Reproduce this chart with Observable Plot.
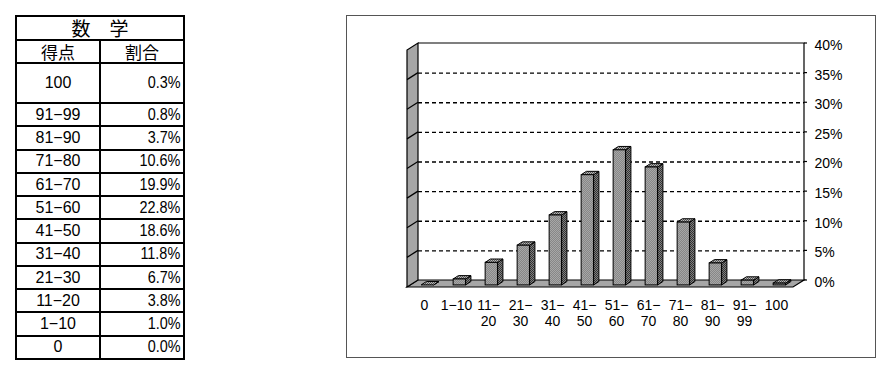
<!DOCTYPE html>
<html><head><meta charset="utf-8">
<script src="https://cdn.jsdelivr.net/npm/d3@7"></script>
<script src="https://cdn.jsdelivr.net/npm/@observablehq/plot@0.6"></script>
<style>
html,body{margin:0;padding:0;background:#fff;}
#wrap{position:relative;width:896px;height:374px;overflow:hidden;background:#fff;}
#chart{position:absolute;left:0;top:0;}
#frame{position:absolute;left:346px;top:15px;width:528px;height:341px;border:1.5px solid #555;pointer-events:none;}
#tbl{position:absolute;left:15px;top:15px;border-collapse:collapse;table-layout:fixed;width:168px;}
#tbl td{border:2px solid #000;padding:0;font-family:"Liberation Sans",Arial,sans-serif;font-size:16px;line-height:1.1;color:#000;white-space:nowrap;}
#tbl td.c1{text-align:center;}
#tbl td.c2{text-align:right;padding-right:3px;}
#tbl td.c2 span{display:inline-block;transform:scaleX(0.9);transform-origin:100% 50%;}
#tbl td.ttl{text-align:center;font-family:"Noto Sans CJK JP",sans-serif;font-size:19px;line-height:1;}
#tbl td.hd{text-align:center;font-family:"Noto Sans CJK JP",sans-serif;font-size:17px;line-height:1;}
</style>
</head><body>
<div id="wrap">
  <table id="tbl"></table>
  <div id="chart"></div>
  <div id="frame"></div>
</div>
<script>
// ---- data ----
const subjectTitle = "数　学";
const headerLabels = ["得点", "割合"];
const categories = ["0","1-10","11-20","21-30","31-40","41-50","51-60","61-70","71-80","81-90","91-99","100"];
const shares = [0.000, 0.010, 0.038, 0.067, 0.118, 0.186, 0.228, 0.199, 0.106, 0.037, 0.008, 0.003];
const chartLabels = ["0","1−10","11−\n20","21−\n30","31−\n40","41−\n50","51−\n60","61−\n70","71−\n80","81−\n90","91−\n99","100"];
const tableLabels = ["0","1−10","11−20","21−30","31−40","41−50","51−60","61−70","71−80","81−90","91−99","100"];
const yTicks = [0, 0.05, 0.10, 0.15, 0.20, 0.25, 0.30, 0.35, 0.40];
const yTickLabels = ["0%","5%","10%","15%","20%","25%","30%","35%","40%"];

// ---- table ----
const tbl = d3.select("#tbl");
const cg = tbl.append("colgroup");
cg.append("col").style("width","84px");
cg.append("col").style("width","84px");
tbl.append("tr").style("height","23.5px").append("td").attr("colspan",2).attr("class","ttl").text(subjectTitle);
const hr = tbl.append("tr").style("height","23.5px");
headerLabels.forEach(h => hr.append("td").attr("class","hd").text(h));
const order = d3.range(categories.length).reverse();
order.forEach((i, k) => {
  const tr = tbl.append("tr").style("height", k === 0 ? "40px" : "23.27px");
  tr.append("td").attr("class","c1").text(tableLabels[i]);
  tr.append("td").attr("class","c2").append("span").text((shares[i]*100).toFixed(1) + "%");
});

// ---- chart geometry (depth offsets in px) ----
const W = 896, H = 374;
const ML = 407, MR = 103, MT = 50, MB = 87;
const DX = 11, DY = -7;          // back wall offset
const F1 = 0.3, F2 = 0.78;       // bar front/back depth fractions
const BAR_W = 12.5;
const BAND = (W - ML - MR) / categories.length;
const INSET = (BAND - BAR_W) / 2;

function defsMark() {
  const g = d3.create("svg:g");
  const defs = g.append("defs");
  const mk = (id, bg, fg) => {
    const p = defs.append("pattern").attr("id", id).attr("width", 2).attr("height", 2).attr("patternUnits", "userSpaceOnUse");
    p.append("rect").attr("width", 2).attr("height", 2).attr("fill", bg);
    p.append("rect").attr("width", 1).attr("height", 1).attr("fill", fg);
    p.append("rect").attr("x", 1).attr("y", 1).attr("width", 1).attr("height", 1).attr("fill", fg);
  };
  mk("pFront", "#c8c8c8", "#666666");
  mk("pSide", "#808080", "#333333");
  mk("pTop", "#b8b8b8", "#555555");
  return g.node();
}

function walls(index, {x, y}) {
  const [x0, x1] = x.range();
  const y0 = y(0), yT = y(0.4);
  const g = d3.create("svg:g").attr("stroke", "#000").attr("stroke-width", 1.2);
  g.append("path").attr("fill", "#a6a6a6")
    .attr("d", `M${x0},${y0}L${x1},${y0}L${x1+DX},${y0+DY}L${x0+DX},${y0+DY}Z`);
  g.append("path").attr("fill", "#a6a6a6")
    .attr("d", `M${x0},${y0}L${x0},${yT}L${x0+DX},${yT+DY}L${x0+DX},${y0+DY}Z`);
  yTicks.slice(1, -1).forEach(v => {
    g.append("line").attr("x1", x0).attr("y1", y(v)).attr("x2", x0+DX).attr("y2", y(v)+DY);
  });
  g.append("path").attr("fill", "none")
    .attr("d", `M${x0+DX},${yT+DY}L${x1+DX},${yT+DY}L${x1+DX},${y0+DY}`);
  yTicks.forEach(v => {
    g.append("line").attr("x1", x1+DX).attr("y1", y(v)+DY).attr("x2", x1+DX+3).attr("y2", y(v)+DY);
  });
  return g.node();
}

function barSides(index, {x, y}) {
  const g = d3.create("svg:g").attr("stroke", "#000").attr("stroke-width", 1);
  const ddx = (F2 - F1) * DX, ddy = (F2 - F1) * DY;
  categories.forEach((c, i) => {
    const xl = x(c) + INSET + F1 * DX, xr = xl + BAR_W;
    const yt = y(shares[i]) + F1 * DY, yb = y(0) + F1 * DY;
    g.append("path").attr("fill", "url(#pSide)")
      .attr("d", `M${xr},${yb}L${xr},${yt}L${xr+ddx},${yt+ddy}L${xr+ddx},${yb+ddy}Z`);
    g.append("path").attr("fill", "url(#pTop)")
      .attr("d", `M${xl},${yt}L${xr},${yt}L${xr+ddx},${yt+ddy}L${xl+ddx},${yt+ddy}Z`);
  });
  return g.node();
}

const font = "'Liberation Sans',Arial,sans-serif";
const chart = Plot.plot({
  width: W, height: H,
  marginLeft: ML, marginRight: MR, marginTop: MT, marginBottom: MB,
  style: {background: "transparent", overflow: "visible", fontFamily: font},
  x: {type: "band", domain: categories, padding: 0, axis: null},
  y: {domain: [0, 0.4], axis: null},
  marks: [
    defsMark,
    walls,
    Plot.ruleY(yTicks.slice(1, -1), {dx: DX, dy: DY, stroke: "#000", strokeWidth: 1.3, strokeDasharray: "4,3"}),
    barSides,
    Plot.barY(categories, {x: d => d, y: (d, i) => shares[i], fill: "url(#pFront)", stroke: "#000", strokeWidth: 1,
      insetLeft: INSET, insetRight: INSET, dx: F1 * DX, dy: F1 * DY}),
    Plot.text(yTicks, {y: d => d, text: (d, i) => yTickLabels[i], frameAnchor: "right", textAnchor: "start",
      dx: 21, dy: -5, fontSize: 14, fill: "#000", fontFamily: font}),
    Plot.text(categories, {x: d => d, text: (d, i) => chartLabels[i], frameAnchor: "bottom", lineAnchor: "top",
      dy: 12, fontSize: 14, lineHeight: 1.1, fill: "#000", fontFamily: font})
  ]
});
document.getElementById("chart").appendChild(chart);
</script>
</body></html>
